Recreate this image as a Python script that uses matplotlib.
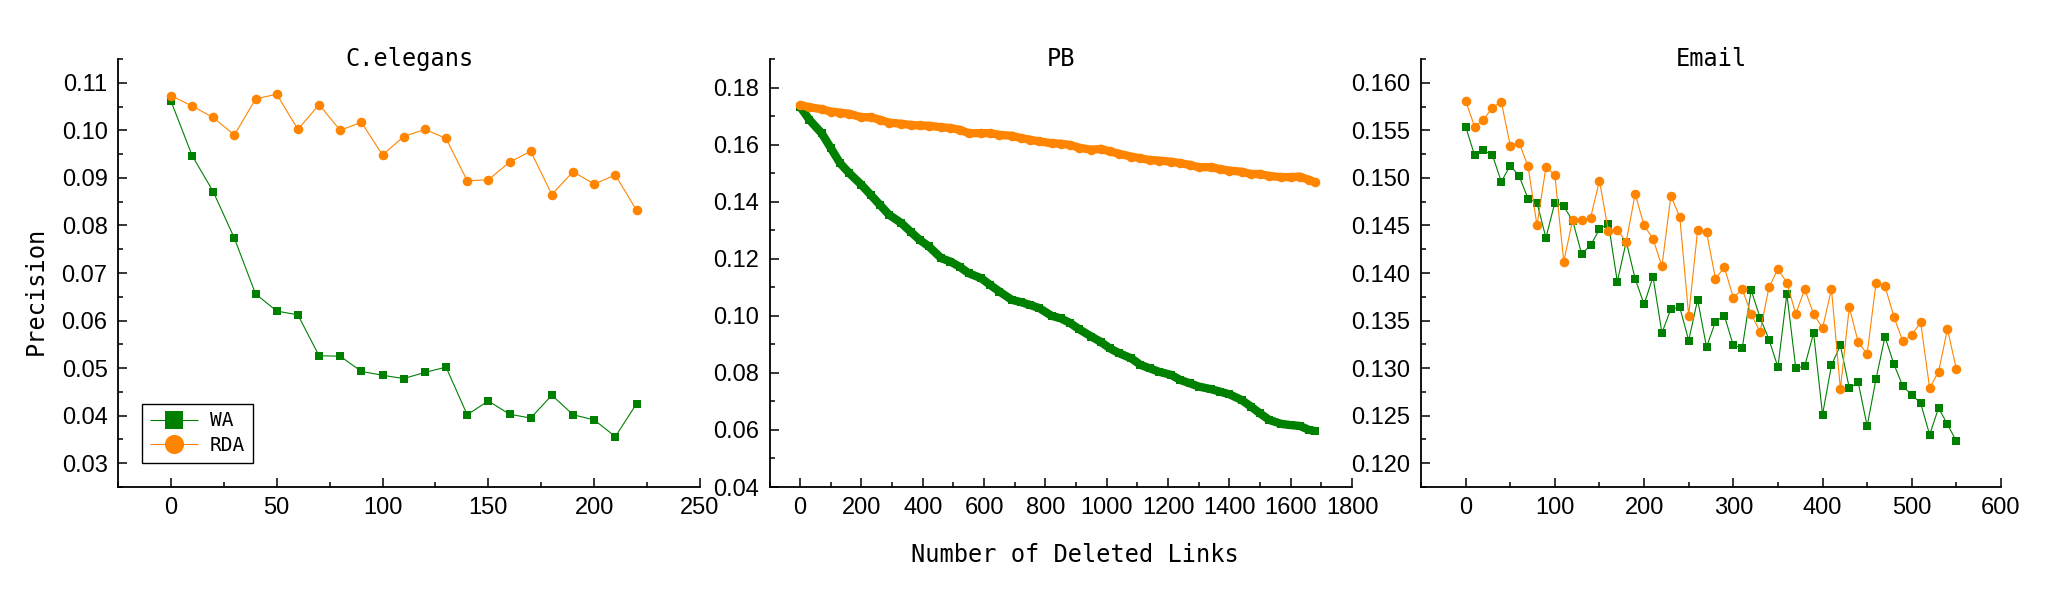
import matplotlib
matplotlib.use('Agg')
import matplotlib.pyplot as plt
from matplotlib.ticker import MultipleLocator, FormatStrFormatter

# ---------------- data ----------------
ce_x = [0, 10, 20, 30, 40, 50, 60, 70, 80, 90, 100, 110, 120, 130, 140, 150,
        160, 170, 180, 190, 200, 210, 220]
ce_wa = [0.1062, 0.0947, 0.0871, 0.0773, 0.0656, 0.0620, 0.0612, 0.0526, 0.0525,
         0.0493, 0.0485, 0.0478, 0.0491, 0.0502, 0.0402, 0.0431, 0.0403, 0.0395,
         0.0443, 0.0402, 0.0391, 0.0356, 0.0425]
ce_rda = [0.1073, 0.1051, 0.1027, 0.0990, 0.1066, 0.1076, 0.1002, 0.1054, 0.1000,
          0.1017, 0.0948, 0.0987, 0.1002, 0.0983, 0.0894, 0.0896, 0.0933, 0.0956,
          0.0865, 0.0913, 0.0887, 0.0906, 0.0832]

pb_x = [0, 30, 70, 100, 130, 160, 200, 230, 260, 290, 330, 360, 390, 420, 460,
        490, 520, 550, 590, 620, 650, 690, 720, 750, 780, 820, 850, 880, 910,
        950, 980, 1010, 1040, 1080, 1110, 1140, 1170, 1210, 1240, 1270, 1300,
        1340, 1370, 1400, 1440, 1470, 1500, 1530, 1570, 1600, 1630, 1660, 1680]
pb_wa = [0.1733, 0.1687, 0.1640, 0.1588, 0.1535, 0.1500, 0.1459, 0.1424, 0.1389,
         0.1354, 0.1325, 0.1295, 0.1266, 0.1243, 0.1202, 0.1190, 0.1172, 0.1149,
         0.1132, 0.1108, 0.1085, 0.1056, 0.1048, 0.1038, 0.1027, 0.1000, 0.0991,
         0.0975, 0.0953, 0.0927, 0.0909, 0.0886, 0.0869, 0.0851, 0.0828, 0.0816,
         0.0804, 0.0793, 0.0775, 0.0764, 0.0752, 0.0743, 0.0734, 0.0725, 0.0705,
         0.0682, 0.0658, 0.0635, 0.0621, 0.0617, 0.0614, 0.0600, 0.0596]
pb_rda = [0.1739, 0.1731, 0.1724, 0.1716, 0.1712, 0.1708, 0.1696, 0.1696, 0.1687,
          0.1677, 0.1673, 0.1669, 0.1667, 0.1666, 0.1661, 0.1658, 0.1652, 0.1640,
          0.1640, 0.1640, 0.1634, 0.1631, 0.1623, 0.1617, 0.1611, 0.1605, 0.1603,
          0.1599, 0.1589, 0.1582, 0.1585, 0.1576, 0.1568, 0.1558, 0.1552, 0.1546,
          0.1544, 0.1540, 0.1535, 0.1529, 0.1521, 0.1521, 0.1514, 0.1509, 0.1505,
          0.1497, 0.1497, 0.1490, 0.1486, 0.1486, 0.1488, 0.1476, 0.1468]

email_x = [0, 10, 20, 30, 40, 50, 60, 70, 80, 90, 100, 110, 120, 130, 140, 150,
           160, 170, 180, 190, 200, 210, 220, 230, 240, 250, 260, 270, 280, 290,
           300, 310, 320, 330, 340, 350, 360, 370, 380, 390, 400, 410, 420, 430,
           440, 450, 460, 470, 480, 490, 500, 510, 520, 530, 540, 550]
email_wa = [0.1554, 0.1524, 0.1529, 0.1524, 0.1496, 0.1513, 0.1502, 0.1478, 0.1474,
            0.1437, 0.1474, 0.1470, 0.1455, 0.1420, 0.1429, 0.1446, 0.1452, 0.1391,
            0.1433, 0.1394, 0.1367, 0.1396, 0.1337, 0.1362, 0.1364, 0.1329, 0.1372,
            0.1322, 0.1349, 0.1355, 0.1324, 0.1321, 0.1382, 0.1353, 0.1330, 0.1301,
            0.1378, 0.1300, 0.1302, 0.1337, 0.1251, 0.1303, 0.1324, 0.1279, 0.1285,
            0.1239, 0.1289, 0.1333, 0.1304, 0.1281, 0.1272, 0.1263, 0.1230, 0.1258,
            0.1241, 0.1223]
email_rda = [0.1581, 0.1554, 0.1561, 0.1574, 0.1580, 0.1534, 0.1537, 0.1512, 0.1450,
             0.1511, 0.1503, 0.1412, 0.1456, 0.1456, 0.1458, 0.1497, 0.1444, 0.1445,
             0.1433, 0.1483, 0.1450, 0.1436, 0.1407, 0.1481, 0.1459, 0.1355, 0.1445,
             0.1443, 0.1394, 0.1406, 0.1374, 0.1383, 0.1357, 0.1338, 0.1385, 0.1404,
             0.1390, 0.1357, 0.1383, 0.1357, 0.1342, 0.1383, 0.1278, 0.1364, 0.1327,
             0.1315, 0.1390, 0.1386, 0.1354, 0.1328, 0.1335, 0.1348, 0.1279, 0.1296,
             0.1341, 0.1299]

titles = ["C.elegans", "PB", "Email"]
series_labels = ["WA", "RDA"]
y_label = "Precision"
x_label = "Number of Deleted Links"

# ---------------- style ----------------
GREEN = "#008000"
ORANGE = "#FF8400"
plt.rcParams['font.family'] = ['Liberation Sans', 'DejaVu Sans']
MONO = ['DejaVu Sans Mono', 'DejaVu Sans']

W, H = 2067, 591
fig = plt.figure(figsize=(W / 100, H / 100), dpi=100)


def rect(l, r, t, b):
    return [l / W, 1 - b / H, (r - l) / W, (b - t) / H]


panels = [
    dict(x=ce_x, wa=ce_wa, rda=ce_rda, rect=rect(118, 700, 59, 487),
         xlim=(-25, 250), xmaj=50, xmin=25, ylim=(0.025, 0.115),
         ymaj=0.01, ymin=0.005, yfmt='%.2f', thick=False),
    dict(x=pb_x, wa=pb_wa, rda=pb_rda, rect=rect(769.5, 1352, 59, 487),
         xlim=(-100, 1800), xmaj=200, xmin=100, ylim=(0.04, 0.19),
         ymaj=0.02, ymin=0.01, yfmt='%.2f', thick=True),
    dict(x=email_x, wa=email_wa, rda=email_rda, rect=rect(1421, 2001, 59, 487),
         xlim=(-50, 600), xmaj=100, xmin=50, ylim=(0.1175, 0.1625),
         ymaj=0.005, ymin=0.0025, yfmt='%.3f', thick=False),
]

axes = []
for i, p in enumerate(panels):
    ax = fig.add_axes(p['rect'])
    lw = 6.0 if p['thick'] else 0.8
    ax.plot(p['x'], p['wa'], color=GREEN, marker='s', ms=6.4, mew=0, lw=lw,
            solid_capstyle='butt', label=series_labels[0])
    ax.plot(p['x'], p['rda'], color=ORANGE, marker='o', ms=6.9, mew=0, lw=lw,
            solid_capstyle='butt', label=series_labels[1])
    ax.set_xlim(*p['xlim'])
    ax.set_ylim(*p['ylim'])
    ax.xaxis.set_major_locator(MultipleLocator(p['xmaj']))
    ax.xaxis.set_minor_locator(MultipleLocator(p['xmin']))
    ax.yaxis.set_major_locator(MultipleLocator(p['ymaj']))
    ax.yaxis.set_minor_locator(MultipleLocator(p['ymin']))
    ax.yaxis.set_major_formatter(FormatStrFormatter(p['yfmt']))
    for s in ['top', 'right']:
        ax.spines[s].set_visible(False)
    for s in ['left', 'bottom']:
        ax.spines[s].set_linewidth(1.3)
    ax.tick_params(which='both', direction='in', width=1.1, labelsize=17,
                   colors='black')
    ax.tick_params(which='major', length=6.5)
    ax.tick_params(which='minor', length=3.6)
    ax.tick_params(axis='y', which='major', pad=7.5)
    ax.tick_params(axis='x', which='major', pad=7)
    ax.set_facecolor('none')
    ax.text(0.5, 0.984, titles[i], transform=ax.transAxes, ha='center',
            va='baseline', fontsize=17, family=MONO)
    axes.append(ax)

leg = axes[0].legend(loc='lower left', bbox_to_anchor=(0.041, 0.056),
                     borderaxespad=0, markerscale=2.0, handlelength=2.5,
                     handletextpad=0.6, labelspacing=0.3, borderpad=0.4,
                     fancybox=False, framealpha=1, edgecolor='black',
                     prop={'family': MONO, 'size': 14})
leg.get_frame().set_linewidth(1.0)

fig.text(36 / W, 1 - 291 / H, y_label, rotation=90, ha='center', va='center',
         fontsize=17, family=MONO)
fig.text(1075 / W, 1 - 555 / H, x_label, ha='center', va='center',
         fontsize=17, family=MONO)

fig.savefig('out.png', dpi=100)
